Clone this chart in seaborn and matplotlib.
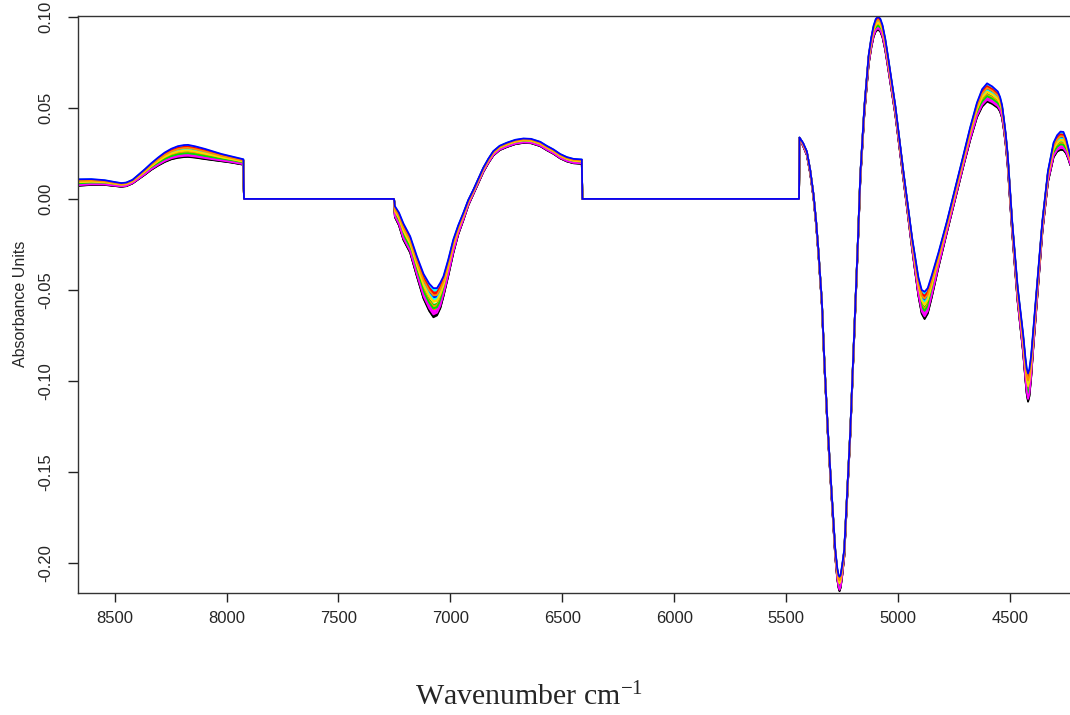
import numpy as np
import pandas as pd
import matplotlib
matplotlib.use("Agg")
import matplotlib.pyplot as plt
import seaborn as sns

# ---- data ----
# region 1 (8664-7922 cm-1)
wn_region1 = [8664, 8604, 8544, 8500, 8470, 8448, 8420, 8395, 8365, 8336, 8306, 8276, 8246,
              8217, 8190, 8172, 8140, 8097, 8060, 8023, 7980, 7934, 7925, 7922]
abs_region1 = [0.0090, 0.0093, 0.0090, 0.0082, 0.0077, 0.0080, 0.0095, 0.0119, 0.0148, 0.0178, 0.0205, 0.0229, 0.0247,
               0.0258, 0.0263, 0.0264, 0.0258, 0.0247, 0.0237, 0.0227, 0.0217, 0.0205, 0.0203, 0.0]
spread_region1 = [0.0018, 0.0016, 0.0013, 0.0011, 0.0010, 0.0010, 0.0010, 0.0012, 0.0015, 0.0018, 0.0022, 0.0026, 0.0029,
                  0.0032, 0.0033, 0.0033, 0.0031, 0.0028, 0.0024, 0.0020, 0.0017, 0.0015, 0.0015, 0.0]

# region 2 (7252-6411 cm-1)
wn_region2 = [7252, 7248, 7230, 7210, 7180, 7150, 7120, 7095, 7076, 7060, 7045, 7031, 7010,
              6987, 6965, 6942, 6920, 6897, 6875, 6853, 6830, 6808, 6780, 6748, 6710, 6674,
              6640, 6599, 6570, 6540, 6510, 6480, 6450, 6413, 6411]
abs_region2 = [0.0, -0.007, -0.011, -0.018, -0.025, -0.037, -0.048, -0.054, -0.057, -0.0565, -0.053, -0.048, -0.038,
               -0.026, -0.017, -0.0096, -0.002, 0.004, 0.010, 0.016, 0.021, 0.0251, 0.028, 0.0297, 0.0313, 0.0320,
               0.0318, 0.0302, 0.028, 0.026, 0.0235, 0.0218, 0.0208, 0.0205, 0.0]
spread_region2 = [0.0, 0.003, 0.0035, 0.0045, 0.0045, 0.0055, 0.0068, 0.0075, 0.008, 0.0075, 0.007, 0.0055, 0.0045,
                  0.0037, 0.0025, 0.002, 0.0015, 0.0012, 0.0012, 0.0012, 0.0012, 0.0012, 0.0012, 0.0012, 0.0012, 0.0012,
                  0.0012, 0.0012, 0.0012, 0.0012, 0.0012, 0.0012, 0.0012, 0.0012, 0.0]

# region 3 (5443-4231 cm-1)
wn_region3 = [5443, 5441, 5425, 5408, 5393, 5378, 5366, 5356, 5341, 5329, 5314, 5296, 5281,
              5272, 5266, 5262, 5257, 5250, 5241, 5229, 5214, 5202, 5190, 5180, 5169, 5151,
              5132, 5120, 5110, 5100, 5090, 5080, 5070, 5058, 5047, 5013, 4976, 4938, 4910,
              4895, 4882, 4868, 4850, 4820, 4782, 4745, 4708, 4678, 4648, 4625, 4603, 4580,
              4555, 4545, 4536, 4528, 4520, 4511, 4491, 4467, 4442, 4432, 4426, 4420, 4414,
              4406, 4398, 4380, 4356, 4331, 4306, 4290, 4275, 4262, 4250, 4240, 4231]
abs_region3 = [0.0, 0.0333, 0.0300, 0.0251, 0.0150, 0.0013, -0.0140, -0.0298, -0.0570, -0.0920, -0.1287, -0.1654, -0.1947,
               -0.2060, -0.2103, -0.2115, -0.2100, -0.2040, -0.1947, -0.1654, -0.1287, -0.0921, -0.0555, -0.0243, 0.0123, 0.0489,
               0.0764, 0.0860, 0.0921, 0.0955, 0.0966, 0.0955, 0.0921, 0.0850, 0.0764, 0.0489, 0.0123, -0.0243, -0.0480,
               -0.0565, -0.0585, -0.0560, -0.0480, -0.0335, -0.0152, 0.0030, 0.0214, 0.0360, 0.0489, 0.0555, 0.0585, 0.0570,
               0.0545, 0.0520, 0.0480, 0.0410, 0.0330, 0.0214, -0.0152, -0.0518, -0.0793, -0.0930, -0.1000, -0.1036, -0.1010,
               -0.0920, -0.0793, -0.0518, -0.0152, 0.0123, 0.0269, 0.0305, 0.0320, 0.0318, 0.0290, 0.0250, 0.0210]
spread_region3 = [0.0, 0.0005, 0.0008, 0.001, 0.001, 0.001, 0.001, 0.001, 0.001, 0.001, 0.0012, 0.0015, 0.002,
                  0.003, 0.0035, 0.004, 0.0035, 0.003, 0.002, 0.0015, 0.0012, 0.001, 0.001, 0.0012, 0.0015, 0.002,
                  0.0025, 0.0028, 0.003, 0.0034, 0.0036, 0.0035, 0.0033, 0.0031, 0.003, 0.0025, 0.002, 0.003, 0.005,
                  0.0065, 0.0075, 0.007, 0.006, 0.004, 0.003, 0.003, 0.003, 0.0035, 0.004, 0.0048, 0.005, 0.0048,
                  0.0045, 0.004, 0.0035, 0.003, 0.003, 0.003, 0.003, 0.004, 0.005, 0.006, 0.007, 0.0078, 0.0075,
                  0.006, 0.005, 0.004, 0.003, 0.003, 0.004, 0.0045, 0.005, 0.005, 0.004, 0.003, 0.0025]

# relative position of each spectrum inside the band (-1 = bottom, 1 = top)
sample_position = [
    -1.0, 0.55, -0.35, 0.8, -0.7, 0.15, -0.5, 0.35,
    -0.85, 0.65, -0.15, 0.9, -0.6, 0.05, -0.25, 0.45,
    -0.95, 0.7, -0.4, 0.25, -0.8, 0.1, 0.5, 1.0,
]
line_colors = ['black', 'red', '#00E000', 'cyan', 'magenta', '#FFD700', '#FF8C00', 'blue']
x_ticks = [8500, 8000, 7500, 7000, 6500, 6000, 5500, 5000, 4500]
y_ticks = [-0.20, -0.15, -0.10, -0.05, 0.00, 0.05, 0.10]
y_tick_labels = ['-0.20', '-0.15', '-0.10', '-0.05', '0.00', '0.05', '0.10']

# ---- build long-form table ----
wn = np.array(wn_region1 + wn_region2 + wn_region3)
mu = np.array(abs_region1 + abs_region2 + abs_region3)
hw = np.array(spread_region1 + spread_region2 + spread_region3)
assert len(wn) == len(mu) == len(hw)
rows = []
for i, pos in enumerate(sample_position):
    rows.append(pd.DataFrame({'wn': wn, 'absorbance': mu + pos * hw, 'sample': f's{i:02d}'}))
df = pd.concat(rows, ignore_index=True)
palette = [line_colors[i % len(line_colors)] for i in range(len(sample_position))]

sns.set_style('white')
plt.rcParams['font.family'] = ['Liberation Sans', 'DejaVu Sans']
plt.rcParams['mathtext.fontset'] = 'custom'
plt.rcParams['mathtext.rm'] = 'Liberation Serif'
plt.rcParams['mathtext.default'] = 'regular'

fig = plt.figure(figsize=(10.7, 7.15), dpi=100)
ax = fig.add_axes([78 / 1070, 1 - 592.5 / 715, 992 / 1070, 576.5 / 715])

sns.lineplot(data=df, x='wn', y='absorbance', hue='sample', palette=palette,
             sort=False, estimator=None, legend=False, linewidth=1.3, ax=ax)

ax.set_xlim(8663.5, 4232.6)
ax.set_ylim(-0.2162, 0.1005)
ax.set_xticks(x_ticks)
ax.set_xticklabels([str(t) for t in x_ticks])
ax.set_yticks(y_ticks)
ax.set_yticklabels(y_tick_labels, rotation=90, va='center')

for side in ['left', 'top', 'bottom']:
    ax.spines[side].set_color('#333333')
    ax.spines[side].set_linewidth(1.0)
ax.spines['right'].set_visible(False)

ax.tick_params(axis='x', direction='out', length=6.5, width=1, color='#222222',
               labelsize=12, pad=6.5, bottom=True)
ax.tick_params(axis='y', direction='out', length=7, width=1, color='#222222',
               labelsize=12, pad=10.5, left=True)

ax.set_xlabel('')
ax.set_ylabel('Absorbance Units', fontsize=11.5)
ax.yaxis.set_label_coords(-0.05, 0.5)

fig.text(529 / 1070, 1 - 705 / 715, r'Wavenumber cm$^{-1}$', family='Liberation Serif',
         fontsize=21.5, ha='center', va='baseline')

fig.savefig('out.png', dpi=100)
